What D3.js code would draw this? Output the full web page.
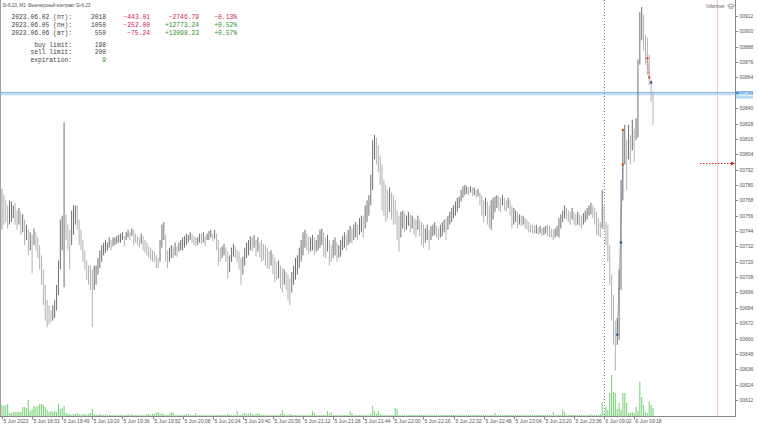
<!DOCTYPE html>
<html><head><meta charset="utf-8">
<script src="https://cdn.jsdelivr.net/npm/d3@7"></script>
<style>html,body{margin:0;padding:0;background:#fff;overflow:hidden}</style>
</head><body><svg id="c" width="758" height="426"></svg>
<script>
// ---------- DATA ----------
const chartTitle = "Si-6.23, M1: Фьючерсный контракт Si-6.23";
const highs = [
777,772,768,764,768,767,764,766,760,762,
759,757,753,749,745,743,741,746,743,739,
733,725,714,702,690,686,682,686,690,702,
721,753,756,829,757,749,745,760,764,764,
764,753,745,737,729,721,717,717,714,717,
717,723,729,733,735,737,735,739,737,739,
739,740,741,742,743,740,743,745,743,746,
745,742,740,739,742,740,737,735,732,731,
729,728,725,723,737,749,751,741,729,731,
733,732,735,732,735,737,739,740,742,741,
743,742,740,739,739,742,
742,743,740,742,744,745,742,745,742,737,
731,732,734,731,728,725,731,734,732,729,
728,723,724,731,735,737,740,739,741,737,
739,735,737,734,733,731,728,729,726,723,
720,721,717,715,714,712,710,707,712,717,
723,725,731,737,743,745,742,740,739,741,
739,737,741,745,746,743,739,741,737,733,
737,739,735,733,737,740,743,741,745,748,
746,749,751,749,754,756,756,764,768,772,
788,815,819,817,811,803,796,784,780,776,
778,774,772,768,760,756,759,760,758,756,
759,757,756,754,753,756,753,751,749,746,
749,745,748,749,751,748,746,749,751,753,
754,756,759,762,764,767,770,771,776,779,
780,779,778,779,778,778,776,777,774,772,
768,770,767,764,768,770,771,772,771,770,
772,770,768,770,768,764,762,760,759,757,
756,756,754,753,751,749,749,748,749,747,
748,746,747,748,749,748,746,745,746,748,
754,757,760,764,762,760,759,762,759,757,
759,757,756,758,760,762,764,766,764,762,
759,754,751,776,764,751,749,733,710,694,
674,676,714,784,823,827,815,827,819,831,
824,832,878,915,919,913,897,895,882,862,853];
const lows = [
745,749,751,746,749,751,754,749,745,749,
741,743,733,737,725,729,711,733,729,723,
714,702,686,674,669,671,673,674,676,682,
694,714,729,700,737,729,714,733,741,749,
745,733,729,720,714,706,702,698,669,698,
702,710,715,720,725,727,729,731,729,732,
733,734,735,735,737,732,737,739,737,740,
733,735,733,731,734,729,727,725,723,721,
720,720,715,715,720,731,737,720,715,720,
723,723,725,724,728,729,729,731,733,735,
737,735,733,732,733,735,
734,735,732,737,737,739,736,738,729,717,
720,723,725,720,707,712,720,724,723,720,
714,702,710,717,723,725,729,728,731,724,
728,723,720,721,717,715,714,717,710,704,
706,707,699,696,702,698,690,686,696,702,
706,710,715,720,725,731,729,726,728,729,
725,728,729,731,733,724,723,728,717,720,
723,725,720,723,724,729,731,729,733,735,
734,737,739,737,741,743,739,746,751,756,
764,776,800,796,790,780,760,756,751,754,
759,753,749,749,737,728,739,746,743,745,
748,743,746,741,739,745,740,733,731,735,
737,729,737,740,741,739,737,739,740,743,
737,745,749,751,754,756,759,762,767,770,
772,773,772,774,771,772,770,771,764,756,
751,756,749,746,745,753,759,762,760,759,
764,760,759,762,756,746,749,751,746,749,
748,749,746,745,743,743,742,742,742,741,
742,740,741,742,740,739,739,737,739,740,
739,746,751,754,753,751,749,753,749,748,
749,748,746,749,751,753,756,757,754,749,
741,740,739,746,745,733,720,702,674,655,
635,655,659,698,768,796,776,800,796,807,
798,815,817,874,893,885,874,866,858,845,827];
const volumes = [
110,100,110,120,30,30,40,40,40,40,
40,90,90,80,160,50,70,100,90,100,
120,120,110,90,60,40,50,40,50,40,
120,70,80,100,30,20,20,10,20,20,
30,20,10,20,20,10,20,30,70,20,
10,10,20,10,10,20,10,10,10,10,
10,10,10,10,10,10,10,20,10,20,
10,10,10,10,10,10,10,20,20,10,
20,20,30,40,20,30,20,10,10,20,
40,30,10,10,10,10,10,10,20,20,
10,10,10,30,10,10,10,10,10,10,
10,10,10,10,10,10,10,10,10,10,
20,10,10,10,10,50,10,10,20,30,
20,20,30,20,10,20,30,20,10,10,
10,10,10,10,10,10,10,10,20,60,
20,10,10,20,10,10,10,10,10,10,
10,10,10,10,10,50,30,10,10,10,
10,10,10,50,20,40,10,10,10,10,
10,10,10,10,10,50,30,10,10,10,
10,10,10,10,10,10,20,100,50,20,
50,20,10,10,10,10,10,10,10,80,
70,10,10,10,10,10,10,10,10,10,
10,10,10,10,10,10,10,10,10,10,
10,10,10,10,10,10,10,10,10,10,
10,10,10,10,10,10,10,10,10,10,
10,10,10,10,10,10,10,10,10,10,
10,10,30,10,10,10,10,10,10,10,
10,10,10,10,10,10,10,10,10,10,
10,10,10,10,10,10,10,10,10,10,
10,10,10,40,10,10,10,10,60,40,
10,10,10,10,10,10,10,10,10,10,
10,10,10,20,10,10,10,10,20,140,
30,90,60,230,410,240,230,70,130,60,
230,230,130,30,30,40,30,90,50,340,
190,110,40,30,140,110,80];
const timeLabels = ["5 Jun 2023","5 Jun 18:33","5 Jun 18:49","5 Jun 19:20","5 Jun 19:36","5 Jun 19:52",
  "5 Jun 20:08","5 Jun 20:24","5 Jun 20:40","5 Jun 20:56","5 Jun 21:12","5 Jun 21:28","5 Jun 21:44",
  "5 Jun 22:00","5 Jun 22:16","5 Jun 22:32","5 Jun 22:48","5 Jun 23:04","5 Jun 23:20","5 Jun 23:36",
  "6 Jun 09:02","6 Jun 09:18"];
const barsPerLabel = 16;
const priceTicks = [912,900,888,876,864,840,828,816,804,792,780,768,756,744,732,720,708,696,684,672,660,648,636,624,612];
const bidPrice = 852, askPrice = 850.5;
const orderLevel = 797;
const separatorBar = 320;
const tradeMarks = [
  {bar:327, price:663, side:"buy"},
  {bar:329, price:735, side:"buy"},
  {bar:330, price:796, side:"sell"},
  {bar:330, price:823, side:"sell"},
  {bar:343, price:879, side:"sell"},
  {bar:344, price:864, side:"sell"},
  {bar:345, price:860, side:"buy"}
];
const statDates = ["2023.06.02 (пт):","2023.06.05 (пн):","2023.06.06 (вт):"];
const statDeals = [2018,1050,550];
const statDay = [-443.01,-252.00,-75.24];
const statTotal = [-2746.79,12773.24,13098.23];
const statPct = [-0.13,0.52,0.57];
const limitLabels = ["buy limit:","sell limit:","expiration:"];
const limitValues = [198,200,9];

// ---------- LAYOUT ----------
const svg = d3.select("#c");
const W = 758, H = 426;
const plotRight = 735, plotBottom = 416;
const x = d3.scaleLinear().domain([0, highs.length - 1]).range([2, 653]);
const y = d3.scaleLinear().domain([612, 912]).range([400, 16]);
const vy = d3.scaleLinear().domain([0, 410]).range([0, 41]);
const RED = "#cc2050", GREEN = "#2f8f2f", TXT = "#444";

svg.append("rect").attr("width", W).attr("height", H).attr("fill", "#fff");

// pink shift marker & day separator
svg.append("line").attr("x1", 717.5).attr("x2", 717.5).attr("y1", 0).attr("y2", plotBottom)
  .attr("stroke", "#f1c9c9").attr("stroke-width", 1);
svg.append("line").attr("x1", Math.round(x(separatorBar)) + 0.5).attr("x2", Math.round(x(separatorBar)) + 0.5)
  .attr("y1", 0).attr("y2", plotBottom).attr("stroke", "#888").attr("stroke-dasharray", "1,2");

// bid / ask lines
svg.append("line").attr("x1", 0).attr("x2", plotRight).attr("y1", y(bidPrice)).attr("y2", y(bidPrice))
  .attr("stroke", "#4c9ad6").attr("stroke-width", 1);
svg.append("line").attr("x1", 0).attr("x2", plotRight).attr("y1", y(askPrice)).attr("y2", y(askPrice))
  .attr("stroke", "#a9d2f0").attr("stroke-width", 1);

// volumes
const bars = highs.map((h, i) => ({i, h, l: lows[i], v: volumes[i]}));
svg.append("g").selectAll("line").data(bars).join("line")
  .attr("x1", d => x(d.i)).attr("x2", d => x(d.i))
  .attr("y1", plotBottom).attr("y2", d => plotBottom - vy(d.v))
  .attr("stroke", "#7fd47f").attr("stroke-width", 1.1);

// price bars
svg.append("g").selectAll("line").data(bars).join("line")
  .attr("x1", d => x(d.i)).attr("x2", d => x(d.i))
  .attr("y1", d => y(d.h)).attr("y2", d => y(d.l))
  .attr("stroke", d => {
    if (d.i === 0) return "#999";
    const prev = (highs[d.i-1] + lows[d.i-1]) / 2, mid = (d.h + d.l) / 2;
    return mid >= prev ? "#707070" : "#b2b2b2";
  })
  .attr("stroke-width", 1);

// trade lines & markers
const buys = tradeMarks.filter(d => d.side === "buy"), sells = tradeMarks.filter(d => d.side === "sell");
svg.append("line").attr("x1", x(buys[0].bar)).attr("y1", y(buys[0].price))
  .attr("x2", x(sells[0].bar)).attr("y2", y(sells[0].price))
  .attr("stroke", "#3a5a9a").attr("stroke-dasharray", "1,1").attr("stroke-width", 0.8);
svg.append("line").attr("x1", x(sells[2].bar)).attr("y1", y(sells[2].price))
  .attr("x2", x(sells[3].bar)).attr("y2", y(sells[3].price))
  .attr("stroke", "#d04040").attr("stroke-dasharray", "1,1").attr("stroke-width", 0.8);
svg.append("g").selectAll("circle").data(tradeMarks).join("circle")
  .attr("cx", d => x(d.bar)).attr("cy", d => y(d.price)).attr("r", 1.2)
  .attr("fill", d => d.side === "buy" ? "#2a4f8f" : "#d9532a");

// order level
const oy = Math.round(y(orderLevel)) + 0.5;
svg.append("line").attr("x1", 700).attr("x2", 732).attr("y1", oy).attr("y2", oy)
  .attr("stroke", "#d02a2a").attr("stroke-dasharray", "1.5,1.5").attr("stroke-width", 1);
svg.append("path").attr("d", `M731,${oy-2}L735,${oy}L731,${oy+2}Z`).attr("fill", "#d02a2a");

// frame
svg.append("line").attr("x1", 0.5).attr("x2", 0.5).attr("y1", 0).attr("y2", plotBottom).attr("stroke", "#a0a0a0");
svg.append("line").attr("x1", 0).attr("x2", plotRight + 0.5).attr("y1", plotBottom + 0.5).attr("y2", plotBottom + 0.5).attr("stroke", "#888");
svg.append("line").attr("x1", plotRight + 0.5).attr("x2", plotRight + 0.5).attr("y1", 0).attr("y2", plotBottom + 1).attr("stroke", "#888");

// right price axis
const fmtP = d3.format("05d");
const pa = svg.append("g").attr("font-family", "Liberation Sans, Arial, sans-serif").attr("font-size", 5).attr("fill", "#555");
priceTicks.forEach(p => {
  const yy = Math.round(y(p)) + 0.5;
  pa.append("line").attr("x1", plotRight).attr("x2", plotRight + 3).attr("y1", yy).attr("y2", yy).attr("stroke", "#888");
  pa.append("text").attr("x", 739.5).attr("y", yy + 1.8).text(fmtP(p));
});
// bid box
svg.append("rect").attr("x", 736).attr("y", y(bidPrice) - 1.5).attr("width", 17).attr("height", 3.5).attr("fill", "#4d95d5");
svg.append("rect").attr("x", 736).attr("y", y(askPrice) - 0.5).attr("width", 17).attr("height", 4.5).attr("fill", "#b5daf4");
svg.append("text").attr("x", 738.5).attr("y", y(bidPrice) + 3.5).attr("font-family", "Liberation Sans, Arial, sans-serif")
  .attr("font-size", 5).attr("fill", "#fff").text(fmtP(bidPrice));

// time axis
const ta = svg.append("g").attr("font-family", "Liberation Sans, Arial, sans-serif").attr("font-size", 5).attr("fill", "#555");
timeLabels.forEach((t, k) => {
  const xx = Math.round(x(k * barsPerLabel)) + 0.5;
  ta.append("line").attr("x1", xx).attr("x2", xx).attr("y1", plotBottom).attr("y2", plotBottom + 3.5).attr("stroke", "#888");
  ta.append("text").attr("x", xx + 1).attr("y", 422.5).text(t);
});

// title & informer
svg.append("text").attr("x", 2.5).attr("y", 6.5).attr("font-family", "Liberation Sans, Arial, sans-serif")
  .attr("font-size", 4.8).attr("fill", "#555").attr("textLength", 88).text(chartTitle);
svg.append("text").attr("x", 706).attr("y", 8).attr("font-family", "Liberation Sans, Arial, sans-serif")
  .attr("font-size", 5).attr("fill", "#555").text("Informer");
svg.append("path").attr("d", "M727.5,5.5L731,4L734.5,5.5L731,7Z M729,6.3V8.3H733V6.3").attr("fill", "none").attr("stroke", "#777").attr("stroke-width", 0.6);

// stats block
const mono = "Liberation Mono, Courier New, monospace";
const sb = svg.append("g").attr("font-family", mono).attr("font-size", 6.3);
const f2 = d3.format("+.2f");
const col = v => v < 0 ? RED : GREEN;
statDates.forEach((d, r) => {
  const yy = 19.3 + r * 7.7;
  sb.append("text").attr("x", 72).attr("y", yy).attr("text-anchor", "end").attr("fill", TXT).text(d);
  sb.append("text").attr("x", 106).attr("y", yy).attr("text-anchor", "end").attr("fill", TXT).text(statDeals[r]);
  sb.append("text").attr("x", 150).attr("y", yy).attr("text-anchor", "end").attr("fill", col(statDay[r])).text(d3.format(".2f")(statDay[r]));
  sb.append("text").attr("x", 199).attr("y", yy).attr("text-anchor", "end").attr("fill", col(statTotal[r])).text(f2(statTotal[r]));
  sb.append("text").attr("x", 237).attr("y", yy).attr("text-anchor", "end").attr("fill", col(statPct[r])).text(f2(statPct[r]) + "%");
});
limitLabels.forEach((d, r) => {
  const yy = 46.5 + r * 7.9;
  sb.append("text").attr("x", 72).attr("y", yy).attr("text-anchor", "end").attr("fill", TXT).text(d);
  sb.append("text").attr("x", 106).attr("y", yy).attr("text-anchor", "end")
    .attr("fill", r === 2 ? GREEN : TXT).text(limitValues[r]);
});
</script>
</body></html>
